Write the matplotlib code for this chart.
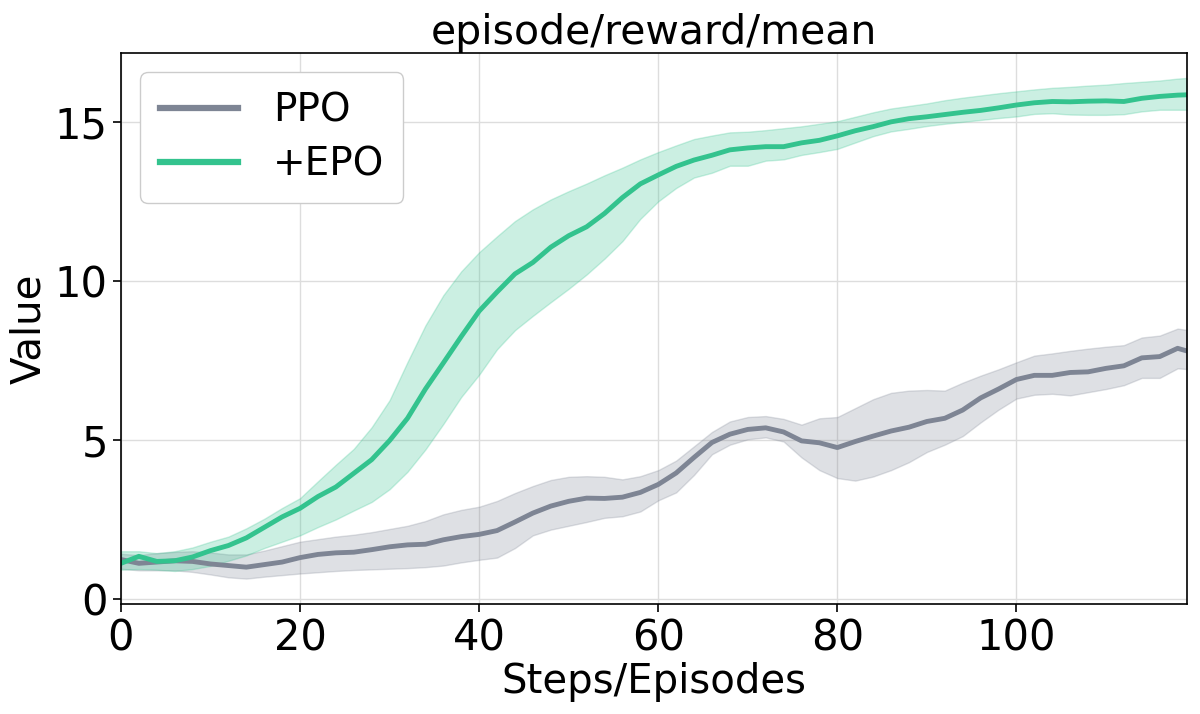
import matplotlib
matplotlib.use("Agg")
import matplotlib.pyplot as plt
import numpy as np

steps = [0, 2, 4, 6, 8, 10, 12, 14, 16, 18, 20, 22, 24, 26, 28, 30, 32, 34, 36, 38,
         40, 42, 44, 46, 48, 50, 52, 54, 56, 58, 60, 62, 64, 66, 68, 70, 72, 74, 76, 78,
         80, 82, 84, 86, 88, 90, 92, 94, 96, 98, 100, 102, 104, 106, 108, 110, 112, 114, 116, 118, 119]

# PPO: mean and band
ppo_mean = [1.24, 1.12, 1.16, 1.20, 1.18, 1.10, 1.05, 1.00, 1.08, 1.16, 1.30, 1.40, 1.45, 1.47, 1.55, 1.64, 1.70, 1.72, 1.86, 1.96,
            2.03, 2.15, 2.42, 2.70, 2.92, 3.07, 3.17, 3.16, 3.20, 3.35, 3.60, 3.96, 4.45, 4.92, 5.18, 5.33, 5.38, 5.25, 4.97, 4.91,
            4.76, 4.95, 5.12, 5.28, 5.40, 5.58, 5.68, 5.94, 6.32, 6.60, 6.90, 7.03, 7.03, 7.12, 7.14, 7.25, 7.33, 7.58, 7.62, 7.88, 7.80]
ppo_hi = [1.42, 1.38, 1.44, 1.48, 1.50, 1.46, 1.40, 1.40, 1.52, 1.66, 1.80, 1.88, 1.96, 2.02, 2.10, 2.20, 2.30, 2.45, 2.66, 2.80,
          2.90, 3.08, 3.33, 3.55, 3.74, 3.84, 3.86, 3.84, 3.76, 3.86, 4.05, 4.35, 4.80, 5.25, 5.58, 5.72, 5.75, 5.66, 5.48, 5.68,
          5.72, 6.00, 6.28, 6.48, 6.55, 6.57, 6.55, 6.80, 7.02, 7.22, 7.44, 7.65, 7.72, 7.80, 7.87, 7.93, 7.98, 8.22, 8.28, 8.50, 8.46]
ppo_lo = [0.95, 0.90, 0.90, 0.90, 0.85, 0.77, 0.68, 0.64, 0.70, 0.75, 0.80, 0.84, 0.88, 0.91, 0.93, 0.95, 0.97, 1.00, 1.05, 1.15,
          1.23, 1.30, 1.60, 2.00, 2.18, 2.30, 2.42, 2.55, 2.60, 2.75, 3.10, 3.35, 3.90, 4.55, 4.85, 5.02, 5.08, 4.95, 4.45, 4.05,
          3.80, 3.72, 3.85, 4.05, 4.30, 4.62, 4.85, 5.12, 5.55, 5.95, 6.30, 6.42, 6.45, 6.40, 6.50, 6.60, 6.72, 6.95, 6.95, 7.25, 7.23]

# +EPO: mean and band
epo_mean = [1.12, 1.34, 1.18, 1.20, 1.32, 1.52, 1.68, 1.92, 2.25, 2.58, 2.85, 3.22, 3.52, 3.95, 4.38, 4.98, 5.68, 6.60, 7.42, 8.25,
            9.05, 9.65, 10.22, 10.58, 11.06, 11.42, 11.70, 12.12, 12.62, 13.05, 13.33, 13.60, 13.80, 13.95, 14.12, 14.18, 14.22, 14.22, 14.34, 14.42,
            14.56, 14.72, 14.85, 15.00, 15.10, 15.16, 15.23, 15.30, 15.36, 15.44, 15.53, 15.60, 15.64, 15.63, 15.65, 15.66, 15.64, 15.74, 15.80, 15.84, 15.85]
epo_hi = [1.50, 1.50, 1.44, 1.50, 1.62, 1.80, 1.96, 2.22, 2.52, 2.86, 3.17, 3.70, 4.22, 4.72, 5.40, 6.25, 7.45, 8.60, 9.55, 10.30,
          10.90, 11.40, 11.88, 12.25, 12.56, 12.82, 13.06, 13.32, 13.56, 13.82, 14.05, 14.26, 14.46, 14.57, 14.67, 14.69, 14.74, 14.80, 14.86, 14.94,
          15.02, 15.16, 15.30, 15.42, 15.50, 15.58, 15.68, 15.76, 15.83, 15.90, 15.96, 16.02, 16.07, 16.10, 16.14, 16.17, 16.22, 16.26, 16.30, 16.36, 16.38]
epo_lo = [0.92, 0.94, 0.92, 0.88, 0.94, 1.04, 1.20, 1.37, 1.60, 1.80, 2.00, 2.26, 2.50, 2.78, 3.05, 3.45, 4.00, 4.70, 5.50, 6.35,
          7.05, 7.85, 8.45, 8.90, 9.33, 9.75, 10.20, 10.70, 11.25, 11.95, 12.50, 12.92, 13.25, 13.40, 13.62, 13.62, 13.78, 13.82, 13.96, 14.05,
          14.15, 14.35, 14.55, 14.70, 14.78, 14.87, 14.94, 15.00, 15.06, 15.12, 15.17, 15.25, 15.27, 15.23, 15.22, 15.22, 15.24, 15.33, 15.38, 15.38, 15.38]

labels = ["PPO", "+EPO"]
colors = ["#7e8594", "#33c38e"]

fig = plt.figure(figsize=(12, 7.14), dpi=100)
ax = fig.add_axes([0.1008, 0.154, 0.888, 0.772])

series = [(ppo_mean, ppo_lo, ppo_hi), (epo_mean, epo_lo, epo_hi)]
for (m, lo, hi), lab, c in zip(series, labels, colors):
    ax.fill_between(steps, lo, hi, color=c, alpha=0.25, linewidth=1)
    ax.plot(steps, m, color=c, linewidth=3.5, label=lab)

ax.set_xlim(0, 119)
ax.set_ylim(-0.16, 17.17)
ax.set_xticks([0, 20, 40, 60, 80, 100])
ax.set_yticks([0, 5, 10, 15])
ax.grid(True, color="#dddddd", linewidth=1)
ax.set_axisbelow(True)
ax.tick_params(labelsize=30, length=6, width=1.2)
for s in ax.spines.values():
    s.set_linewidth(1.2)

ax.set_title("episode/reward/mean", fontsize=29.5, pad=6)
ax.set_xlabel("Steps/Episodes", fontsize=29, labelpad=2)
ax.set_ylabel("Value", fontsize=29, labelpad=4)

leg = ax.legend(loc="upper left", fontsize=28, handlelength=2.0, borderpad=0.5,
                labelspacing=0.4, handletextpad=0.9, fancybox=True, framealpha=1)
for line in leg.get_lines():
    line.set_linewidth(4.5)
leg.get_frame().set_edgecolor("#cccccc")

fig.savefig("out.png", dpi=100)
